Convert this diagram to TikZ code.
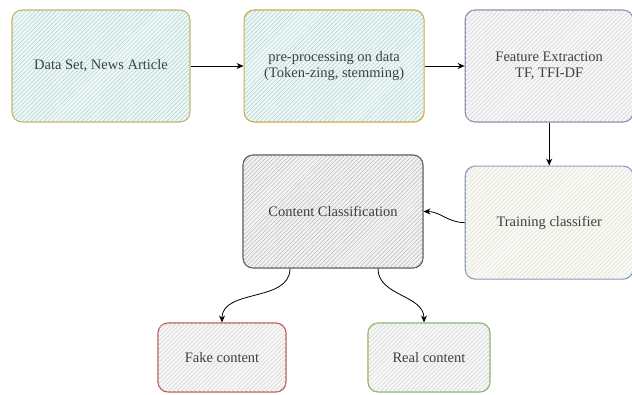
\documentclass[tikz,border=0pt]{standalone}
\usepackage{fontspec}
\setmainfont{Liberation Serif}
\usepackage{xcolor}
\usepackage{tikz}
\usetikzlibrary{arrows.meta, positioning, patterns.meta}

\definecolor{olivebd}{HTML}{C8B45A}
\definecolor{goldbd}{HTML}{D4A838}
\definecolor{purplebd}{HTML}{9484A8}
\definecolor{bluebd}{HTML}{8494BC}
\definecolor{greybd}{HTML}{555555}
\definecolor{redbd}{HTML}{C05050}
\definecolor{greenbd}{HTML}{84B464}
\definecolor{strawhatch}{HTML}{A0A070}
\definecolor{darkhatch}{HTML}{303030}

\begin{document}
\begin{tikzpicture}[
    x=1pt, y=1pt,
    box/.style={rectangle, draw, rounded corners=10pt, line width=1.1pt, align=center, inner sep=0pt, text=black!75, font=\fontsize{14.5}{16}\selectfont},
    hatch/.style={fill=#1!6, postaction={pattern={Lines[angle=45,distance=3pt,line width=0.5pt]}, pattern color=#1!35}},
    arrow/.style={thick,-{Stealth[length=7pt,width=6pt]}}
]
    \useasboundingbox (0,0) rectangle (632,-394);

    \node [box, draw=olivebd, hatch=teal, minimum width=178pt, minimum height=112pt] (data) at (101,-66) {Data Set, News Article};
    \node [box, draw=goldbd, hatch=teal, minimum width=180pt, minimum height=112pt, right=53pt of data] (prep) {pre-processing on data\\(Token-zing, stemming)};
    \node [box, draw=purplebd, hatch=gray, minimum width=168pt, minimum height=112pt, right=40pt of prep] (feat) {Feature Extraction\\TF, TFI-DF};
    \node [box, draw=bluebd, hatch=strawhatch, minimum width=168pt, minimum height=113pt, below=43pt of feat] (train) {Training classifier};
    \node [box, draw=greybd, hatch=darkhatch, minimum width=180pt, minimum height=113pt] (cls) at (333,-211.5) {Content Classification};
    \node [box, draw=redbd, hatch=gray, minimum width=128pt, minimum height=69pt] (fake) at (222,-357.5) {Fake content};
    \node [box, draw=greenbd, hatch=gray, minimum width=122pt, minimum height=69pt] (real) at (429,-357.5) {Real content};

    \draw [arrow] (data) -- (prep);
    \draw [arrow] (prep) -- (feat);
    \draw [arrow] (feat) -- (train);
    \draw [arrow] (train.west) to[out=180, in=0] (cls.east);
    \draw [arrow] ([xshift=-43pt]cls.south) to[out=-90, in=90] (fake.north);
    \draw [arrow] ([xshift=45pt]cls.south) to[out=-90, in=90] ([xshift=-5pt]real.north);
\end{tikzpicture}
\end{document}
